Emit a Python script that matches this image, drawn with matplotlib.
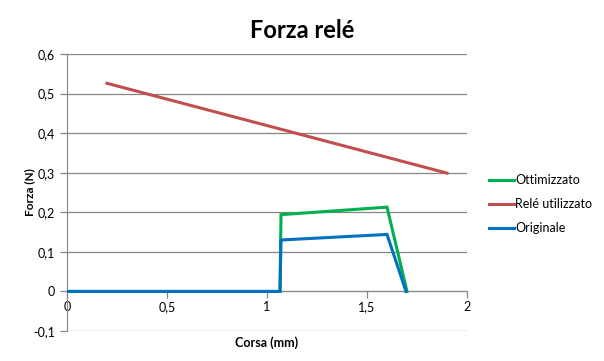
import matplotlib
matplotlib.use("Agg")
import matplotlib.pyplot as plt
from matplotlib.ticker import FuncFormatter, MultipleLocator

plt.rcParams['font.family'] = ['Lato', 'DejaVu Sans']

# dati
corsa_ottimizzato = [0.0, 1.065, 1.07, 1.60, 1.70]
forza_ottimizzato = [0.0, 0.0, 0.194, 0.213, 0.0]

corsa_rele = [0.2, 1.9]
forza_rele = [0.526, 0.299]

corsa_originale = [0.0, 1.065, 1.07, 1.60, 1.695]
forza_originale = [0.0, 0.0, 0.130, 0.144, 0.0]


def virgola(v, pos):
    if abs(v) < 1e-9:
        return '0'
    s = f'{v:.1f}'.rstrip('0').rstrip('.')
    return s.replace('.', ',')


fig = plt.figure(figsize=(6.04, 3.61), dpi=100)
ax = fig.add_axes([0.1109, 0.0831, 0.6623, 0.7673])

grid_col = '#868686'
ax.plot(corsa_ottimizzato, forza_ottimizzato, color='#00B050', linewidth=2.2,
        label='Ottimizzato', solid_joinstyle='miter', zorder=3)
ax.plot(corsa_rele, forza_rele, color='#C0504D', linewidth=2.2,
        label='Relé utilizzato', zorder=3)
ax.plot(corsa_originale, forza_originale, color='#0070C0', linewidth=2.2,
        label='Originale', solid_joinstyle='miter', zorder=4)

ax.set_xlim(0, 2)
ax.set_ylim(-0.1, 0.6)
ax.xaxis.set_major_locator(MultipleLocator(0.5))
ax.yaxis.set_major_locator(MultipleLocator(0.1))
ax.xaxis.set_major_formatter(FuncFormatter(virgola))
ax.yaxis.set_major_formatter(FuncFormatter(virgola))

ax.grid(True, axis='y', color=grid_col, linewidth=0.9)
ax.set_axisbelow(True)
for s in ['top', 'right']:
    ax.spines[s].set_visible(False)
ax.spines['bottom'].set_position(('data', 0))
ax.spines['bottom'].set_color(grid_col)
ax.spines['left'].set_color(grid_col)
ax.tick_params(axis='both', colors=grid_col, labelcolor='black',
               labelsize=9, length=5, width=0.9)
ax.tick_params(axis='x', pad=2)

fig.text(0.5, 1 - 30 / 361, 'Forza relé', fontsize=17, fontweight='bold',
         ha='center', va='center')
ax.set_xlabel('Corsa (mm)', fontsize=9, fontweight='bold', va='center')
ax.set_ylabel('Forza (N)', fontsize=8.5, fontweight='bold', va='center')
ax.xaxis.set_label_coords(0.5, -0.043)
ax.yaxis.set_label_coords(-0.092, 0.5)

fig.legend(loc='center left', bbox_to_anchor=(489 / 604, 1 - 204 / 361),
           frameon=False, fontsize=9, handlelength=2.0, handletextpad=0.1,
           labelspacing=0.95, borderaxespad=0, borderpad=0)

fig.savefig('out.png', dpi=100)
